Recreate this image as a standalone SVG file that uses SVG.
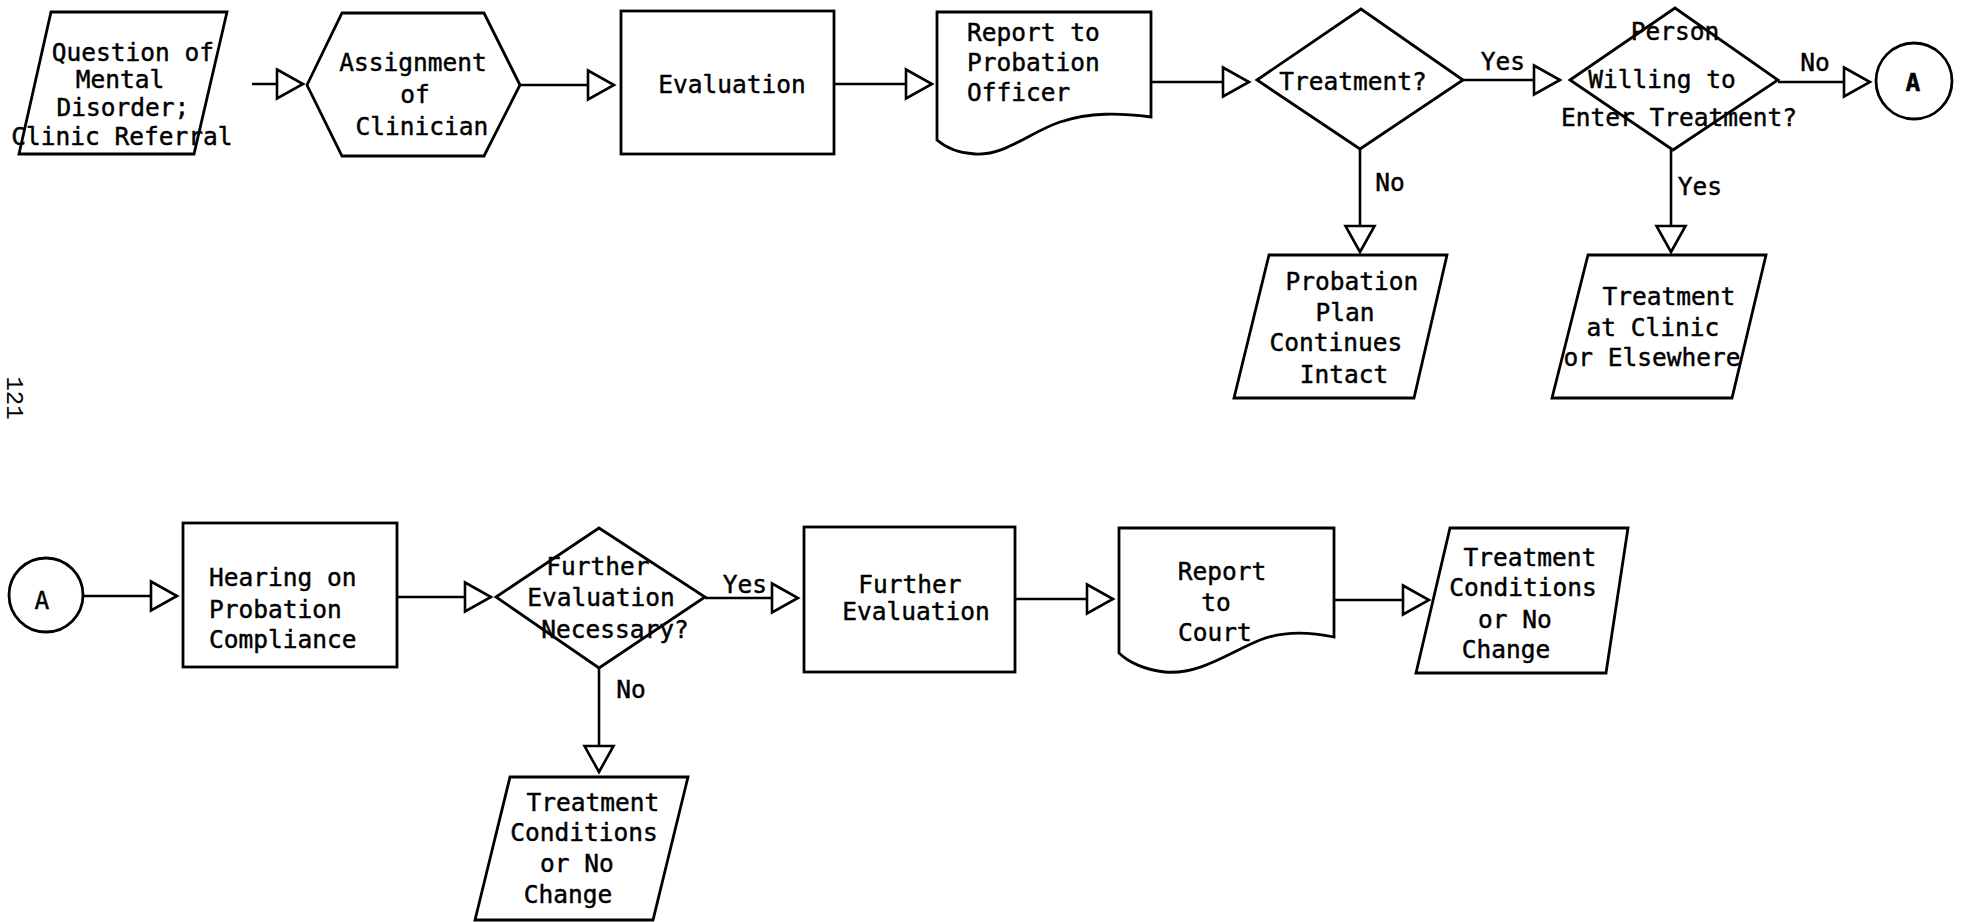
<svg xmlns="http://www.w3.org/2000/svg" width="1965" height="922" viewBox="0 0 1965 922">
<style>
.s{fill:#fff;stroke:#000;stroke-width:2.8;stroke-linejoin:miter}
.c{fill:none;stroke:#000;stroke-width:2.6}
.t{font-family:"DejaVu Sans Mono","Liberation Mono",monospace;font-size:24.5px;fill:#000;stroke:#000;stroke-width:0.45;text-anchor:middle}
.l{text-anchor:start}
.b{font-weight:bold}
</style>
<defs>
<marker id="ah" markerUnits="userSpaceOnUse" markerWidth="32" markerHeight="34" refX="26" refY="14.5" orient="auto" overflow="visible">
<path d="M0,0 L26,14.5 L0,29 Z" fill="#fff" stroke="#000" stroke-width="2.6"/>
</marker>
</defs>
<rect width="1965" height="922" fill="#fff"/>
<g id="connectors">
<line class="c" x1="252" y1="84" x2="303" y2="84" marker-end="url(#ah)"/>
<line class="c" x1="520" y1="85" x2="614" y2="85" marker-end="url(#ah)"/>
<line class="c" x1="834" y1="84" x2="932" y2="84" marker-end="url(#ah)"/>
<line class="c" x1="1151" y1="82" x2="1249" y2="82" marker-end="url(#ah)"/>
<line class="c" x1="1463" y1="80" x2="1560" y2="80" marker-end="url(#ah)"/>
<line class="c" x1="1778" y1="82" x2="1870" y2="82" marker-end="url(#ah)"/>
<line class="c" x1="1360" y1="149" x2="1360" y2="252" marker-end="url(#ah)"/>
<line class="c" x1="1671" y1="150" x2="1671" y2="252" marker-end="url(#ah)"/>
<line class="c" x1="83" y1="596" x2="177" y2="596" marker-end="url(#ah)"/>
<line class="c" x1="397" y1="597" x2="491" y2="597" marker-end="url(#ah)"/>
<line class="c" x1="705" y1="598" x2="798" y2="598" marker-end="url(#ah)"/>
<line class="c" x1="1015" y1="599" x2="1113" y2="599" marker-end="url(#ah)"/>
<line class="c" x1="1334" y1="600" x2="1429" y2="600" marker-end="url(#ah)"/>
<line class="c" x1="599" y1="668" x2="599" y2="772" marker-end="url(#ah)"/>
<text class="t" x="1503" y="70">Yes</text>
<text class="t" x="1815" y="71">No</text>
<text class="t" x="1390" y="191">No</text>
<text class="t" x="1700" y="195">Yes</text>
<text class="t" x="745" y="593">Yes</text>
<text class="t" x="631" y="698">No</text>
</g>
<g id="n1">
<polygon class="s" points="51,12 227,12 194,154 19,154"/>
<text class="t" x="133" y="61">Question of</text>
<text class="t" x="120" y="88">Mental</text>
<text class="t" x="123" y="116">Disorder;</text>
<text class="t" x="122" y="145">Clinic Referral</text>
</g>
<g id="n2">
<polygon class="s" points="307,85 342,13 484,13 520,85 484,156 342,156"/>
<text class="t" x="413" y="71">Assignment</text>
<text class="t" x="415" y="103">of</text>
<text class="t" x="422" y="135">Clinician</text>
</g>
<g id="n3">
<rect class="s" x="621" y="11" width="213" height="143"/>
<text class="t" x="732" y="93">Evaluation</text>
</g>
<g id="n4">
<path class="s" d="M937,12 H1151 V117 C1120,113 1090,112 1060,122 C1030,132 1005,156 975,154 C958,153 945,147 937,140 Z"/>
<text class="t l" x="967" y="41">Report to</text>
<text class="t l" x="967" y="71">Probation</text>
<text class="t l" x="967" y="101">Officer</text>
</g>
<g id="n5">
<polygon class="s" points="1257,80 1361,9 1463,80 1360,149"/>
<text class="t" x="1353" y="90">Treatment?</text>
</g>
<g id="n6">
<polygon class="s" points="1570,80 1675,8 1778,80 1673,150"/>
<text class="t" x="1675" y="40">Person</text>
<text class="t" x="1662" y="88">Willing to</text>
<text class="t" x="1679" y="126">Enter Treatment?</text>
</g>
<g id="n7">
<circle class="s" cx="1914" cy="81" r="38"/>
<text class="t b" x="1913" y="91">A</text>
</g>
<g id="n8">
<polygon class="s" points="1269,255 1447,255 1414,398 1234,398"/>
<text class="t" x="1352" y="290">Probation</text>
<text class="t" x="1345" y="321">Plan</text>
<text class="t" x="1336" y="351">Continues</text>
<text class="t" x="1344" y="383">Intact</text>
</g>
<g id="n9">
<polygon class="s" points="1588,255 1766,255 1732,398 1552,398"/>
<text class="t" x="1669" y="305">Treatment</text>
<text class="t" x="1653" y="336">at Clinic</text>
<text class="t" x="1652" y="366">or Elsewhere</text>
</g>
<g id="page">
<text font-family="Liberation Mono, monospace" font-size="24" text-anchor="middle" transform="translate(7,398) rotate(90)">121</text>
</g>
<g id="n10">
<circle class="s" cx="46" cy="595" r="37"/>
<text class="t" x="42" y="609">A</text>
</g>
<g id="n11">
<rect class="s" x="183" y="523" width="214" height="144"/>
<text class="t l" x="209" y="586">Hearing on</text>
<text class="t l" x="209" y="618">Probation</text>
<text class="t l" x="209" y="648">Compliance</text>
</g>
<g id="n12">
<polygon class="s" points="496,597 599,528 705,597 599,668"/>
<text class="t" x="598" y="575">Further</text>
<text class="t" x="601" y="606">Evaluation</text>
<text class="t" x="615" y="638">Necessary?</text>
</g>
<g id="n13">
<rect class="s" x="804" y="527" width="211" height="145"/>
<text class="t" x="910" y="593">Further</text>
<text class="t" x="916" y="620">Evaluation</text>
</g>
<g id="n14">
<path class="s" d="M1119,528 H1334 V637 C1310,632 1285,630 1260,640 C1230,652 1200,675 1165,672 C1145,670 1128,662 1119,653 Z"/>
<text class="t" x="1222" y="580">Report</text>
<text class="t" x="1216" y="611">to</text>
<text class="t" x="1215" y="641">Court</text>
</g>
<g id="n15">
<polygon class="s" points="1450,528 1628,528 1606,673 1416,673"/>
<text class="t" x="1530" y="566">Treatment</text>
<text class="t" x="1523" y="596">Conditions</text>
<text class="t" x="1515" y="628">or No</text>
<text class="t" x="1506" y="658">Change</text>
</g>
<g id="n16">
<polygon class="s" points="510,777 688,777 653,920 475,920"/>
<text class="t" x="593" y="811">Treatment</text>
<text class="t" x="584" y="841">Conditions</text>
<text class="t" x="577" y="872">or No</text>
<text class="t" x="568" y="903">Change</text>
</g>
</svg>
